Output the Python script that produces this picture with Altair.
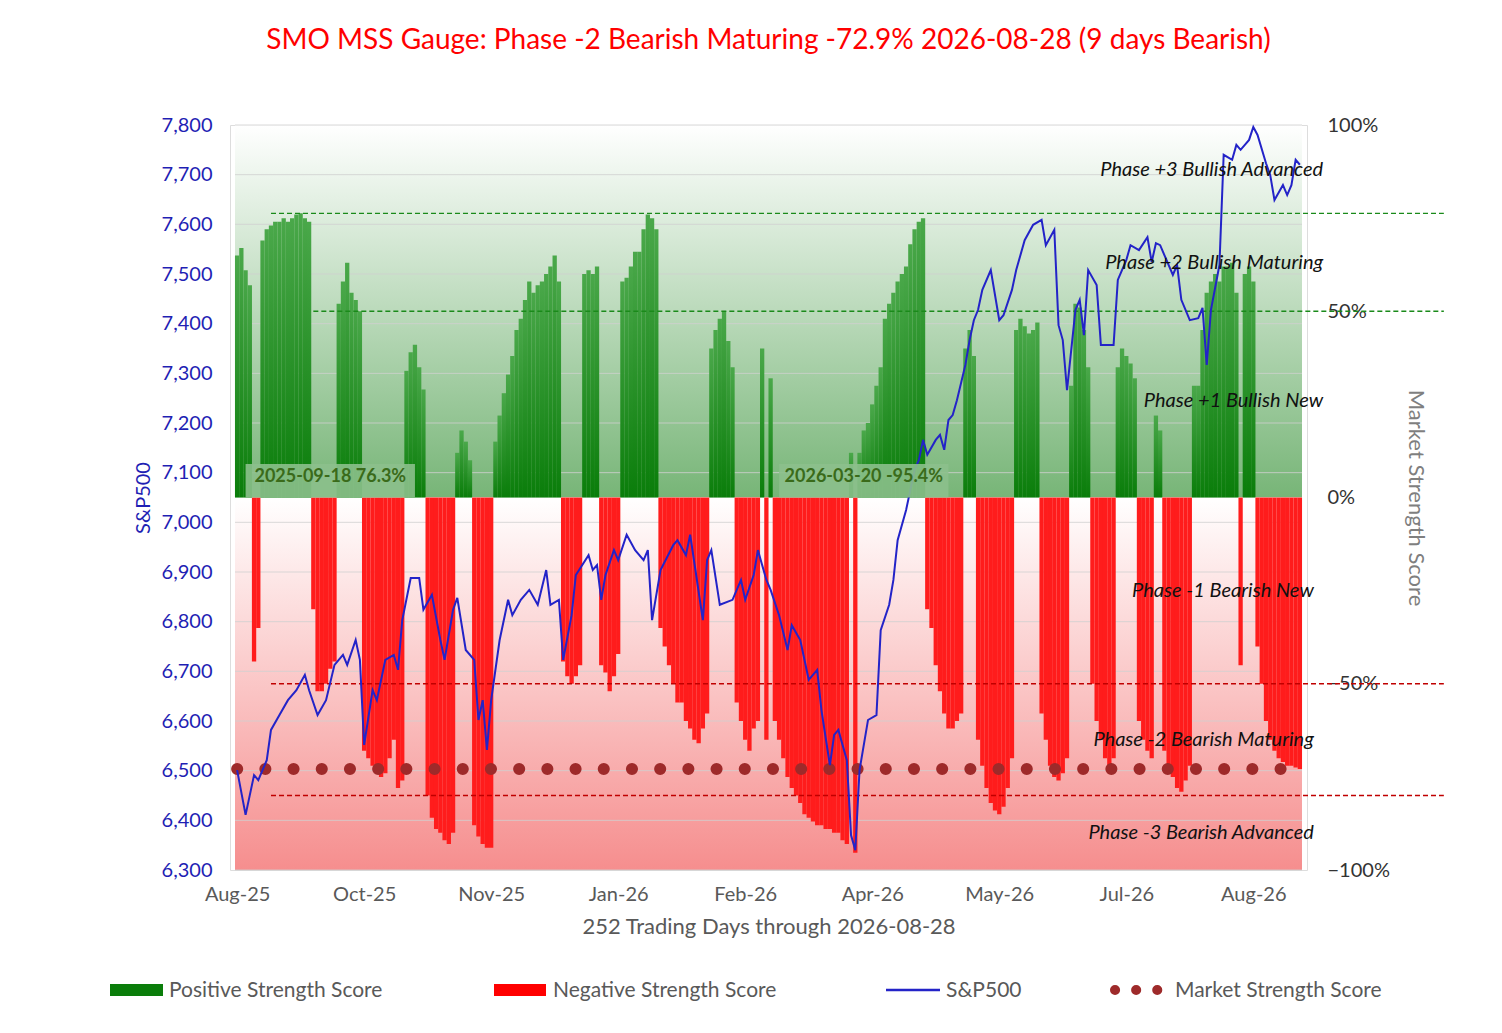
import altair as alt
import pandas as pd

# Market strength score per trading day (%), 252 days
strength = (
    [65, 67, 61, 57] + [-44, -35] +
    [69, 72, 73, 74, 74, 75, 74, 75, 76, 76.3, 75, 74] +
    [-30, -52, -52, -50, -46, -44] + [52, 58, 63, 55, 53, 50] +
    [-68, -70, -72, -73, -75, -74, -70, -65, -78, -76] +
    [34, 39, 41, 35, 29] + [-80, -86, -89, -90, -92, -93, -90] +
    [12, 18, 15, 10] + [-88, -91, -93, -94, -94] +
    [15, 22, 28, 33, 38, 45, 48, 53, 58, 55, 57, 58, 60, 62, 65, 58] +
    [-44, -48, -50, -48, -45] + [60, 61, 60, 62] + [-45, -47, -52, -48, -42] +
    [58, 59, 62, 66, 66, 72, 76, 75, 72] +
    [-35, -40, -45, -50, -55, -55, -60, -62, -65, -66, -62, -58] +
    [40, 45, 48, 50, 42, 35] + [-55, -60, -65, -68, -62, -60] + [40] + [-65] + [32] +
    [-60, -65, -70, -75, -78, -80, -82, -85, -86, -87, -88, -88, -89, -89, -90, -90, -92, -93] +
    [12, -95.4] +
    [12, 18, 20, 25, 30, 35, 48, 52, 55, 58, 60, 62, 68, 72, 74, 75] +
    [-30, -35, -45, -52, -58, -62, -62, -60, -58] + [40, 45, 38] +
    [-65, -72, -78, -82, -84, -85, -83, -78, -70] + [45, 48, 46, 44, 45, 47] +
    [-58, -65, -72, -75, -76, -74, -70] + [30, 52, 51, 45, 35] +
    [-50, -60, -65, -70, -72, -70] + [35, 40, 38, 36, 32] + [-60, -65, -68, -70] +
    [22, 18] + [-68, -72, -75, -78, -79, -76, -72] +
    [30, 30, 45, 55, 58, 60, 58, 62, 62, 63, 55] + [-45] + [60, 62, 58] +
    [-40, -50, -60, -65, -68, -70, -71, -72, -72, -72.5, -72.9]
)

sp_day = [0, 2, 4, 5, 7, 8, 10, 12, 14, 16, 17, 19, 21, 23, 25, 26, 28, 29, 30, 32, 33, 35, 37, 38, 39,
          41, 43, 44, 46, 48, 49, 51, 52, 54, 56, 57, 58, 59, 60, 62, 64, 65, 67, 69, 71, 73, 74, 76,
          77, 79, 80, 83, 84, 85, 86, 87, 89, 90, 92, 94, 96, 97, 98, 100, 103, 104, 106, 107, 110,
          111, 112, 114, 117, 119, 120, 122, 123, 125, 126, 128, 130, 131, 133, 135, 137, 138, 140,
          141, 142, 144, 145, 146, 147, 149, 151, 152, 154, 155, 156, 158, 159, 160, 161, 162, 163,
          165, 166, 167, 168, 169, 170, 172, 173, 174, 175, 176, 178, 180, 181, 183, 184, 186, 188,
          190, 191, 193, 194, 195, 196, 198, 199, 200, 201, 203, 204, 207, 208, 210, 211, 213, 215,
          216, 217, 218, 221, 222, 223, 225, 227, 228, 229, 230, 232, 233, 235, 236, 237, 239, 240,
          241, 243, 244, 245, 247, 248, 249, 250, 251]
sp_val = [6501, 6411, 6491, 6481, 6521, 6582, 6612, 6642, 6662, 6693, 6662, 6612, 6642, 6713, 6733,
          6713, 6763, 6723, 6552, 6662, 6642, 6723, 6733, 6703, 6803, 6888, 6888, 6824, 6854, 6763,
          6723, 6824, 6848, 6743, 6723, 6602, 6642, 6542, 6642, 6763, 6844, 6813, 6844, 6864, 6834,
          6904, 6834, 6844, 6723, 6813, 6894, 6934, 6904, 6914, 6844, 6894, 6944, 6924, 6975, 6944,
          6924, 6944, 6803, 6904, 6954, 6964, 6934, 6975, 6803, 6924, 6944, 6834, 6844, 6884, 6844,
          6894, 6944, 6884, 6864, 6813, 6743, 6793, 6763, 6683, 6703, 6622, 6511, 6572, 6582, 6521,
          6370, 6340, 6501, 6602, 6612, 6783, 6834, 6884, 6964, 7025, 7065, 7105, 7125, 7166, 7136,
          7166, 7176, 7146, 7206, 7216, 7246, 7317, 7367, 7407, 7428, 7468, 7508, 7407, 7417, 7468,
          7508, 7568, 7599, 7609, 7558, 7589, 7397, 7367, 7266, 7428, 7448, 7377, 7508, 7478, 7357,
          7357, 7488, 7528, 7558, 7548, 7574, 7524, 7562, 7558, 7498, 7518, 7448, 7407, 7411, 7432,
          7317, 7428, 7518, 7740, 7730, 7760, 7750, 7770, 7796, 7780, 7723, 7699, 7649, 7679, 7659,
          7679, 7730, 7720]

month_labels = ["Aug-25", "Oct-25", "Nov-25", "Jan-26", "Feb-26", "Apr-26", "May-26", "Jul-26", "Aug-26"]
sp_ticks = list(range(6300, 7801, 100))
phase_labels = ["Phase +3 Bullish Advanced", "Phase +2 Bullish Maturing", "Phase +1 Bullish New",
                "Phase -1 Bearish New", "Phase -2 Bearish Maturing", "Phase -3 Bearish Advanced"]
phase_y = [0.88, 0.63, 0.26, -0.25, -0.65, -0.90]
phase_x = [256.5, 256.5, 256.5, 254.3, 254.3, 254.3]
current_score = -0.729

n = len(strength)
bars = pd.DataFrame({"day": list(range(n)), "score": [v / 100 for v in strength]})
sp = pd.DataFrame({"day": sp_day[:len(sp_val)], "sp": sp_val[:len(sp_day)]})

X = alt.X("day:Q", scale=alt.Scale(domain=[-0.5, n - 0.5], nice=False, zero=False),
          axis=alt.Axis(values=[0, 30, 60, 90, 120, 150, 180, 210, 240],
                        labelExpr="%s[datum.value/30]" % str(month_labels),
                        title="252 Trading Days through 2026-08-28", ticks=False, domain=False, grid=False,
                        labelFontSize=20, labelColor="#595959", titleFontSize=22, titleColor="#595959",
                        titleFontWeight="normal", labelPadding=14, titlePadding=12))
SS = alt.Scale(domain=[-1, 1], nice=False, zero=False)
SPS = alt.Scale(domain=[6300, 7800], nice=False, zero=False)


def ys(field="score", axis=None):
    return alt.Y(field + ":Q", scale=SS, axis=axis)


green_grad = alt.Gradient(gradient="linear", x1=0, x2=0, y1=0, y2=1,
                          stops=[alt.GradientStop(color="#ffffff", offset=0),
                                 alt.GradientStop(color="#5fa85f", offset=1)])
red_grad = alt.Gradient(gradient="linear", x1=0, x2=0, y1=0, y2=1,
                        stops=[alt.GradientStop(color="#ffffff", offset=0),
                               alt.GradientStop(color="#f47a7a", offset=1)])
bg = pd.DataFrame({"x": [-0.5, -0.5], "x2": [n - 0.5, n - 0.5], "lo": [0, -1], "hi": [1, 0], "k": ["g", "r"]})
bg_g = alt.Chart(bg[bg.k == "g"]).mark_rect(color=green_grad, opacity=0.85).encode(
    x="x:Q", x2="x2:Q", y=ys("hi"), y2="lo:Q")
bg_r = alt.Chart(bg[bg.k == "r"]).mark_rect(color=red_grad, opacity=0.85).encode(
    x="x:Q", x2="x2:Q", y=ys("hi"), y2="lo:Q")

grid = alt.Chart(pd.DataFrame({"g": sp_ticks, "x": [-0.5] * len(sp_ticks), "x2": [n - 0.5] * len(sp_ticks)})
                 ).mark_rule(color="#d0d0d0", strokeWidth=1, opacity=0.8).encode(
    x="x:Q", x2="x2:Q", y=alt.Y("g:Q", scale=SPS, axis=None))

bar_g_grad = alt.Gradient(gradient="linear", x1=0, x2=0, y1=0, y2=1,
                          stops=[alt.GradientStop(color="#4aa84a", offset=0),
                                 alt.GradientStop(color="#0a7d0a", offset=1)])
right_axis = alt.Axis(orient="right", values=[-1, -0.5, 0, 0.5, 1], format=".0%", ticks=False, domain=False,
                      grid=False, labelFontSize=20, labelColor="#333333", labelPadding=20,
                      title="Market Strength Score", titleFontSize=22, titleColor="#7f7f7f",
                      titleFontWeight="normal", titlePadding=14)
bars_g = alt.Chart(bars[bars.score > 0]).mark_bar(size=4.3, color=bar_g_grad).encode(
    x=X, y=ys("score", right_axis), y2=alt.datum(0))
bars_r = alt.Chart(bars[bars.score < 0]).mark_bar(size=4.3, color="#ff1c1c").encode(
    x="day:Q", y=ys(), y2=alt.datum(0))

lines = pd.DataFrame({"x": [8, 18, 8, 8], "x2": [285, 285, 285, 285],
                      "y": [0.763, 0.5, -0.5, -0.8], "c": ["g", "g", "r", "r"]})
dash_g = alt.Chart(lines[lines.c == "g"]).mark_rule(color="#1a8a1a", strokeDash=[5, 3], clip=False,
                                                   strokeWidth=1.3).encode(
    x="x:Q", x2="x2:Q", y=ys("y"))
dash_r = alt.Chart(lines[lines.c == "r"]).mark_rule(color="#c00000", strokeDash=[5, 3], clip=False,
                                                   strokeWidth=1.3).encode(
    x="x:Q", x2="x2:Q", y=ys("y"))

dots = alt.Chart(pd.DataFrame({"x": [0], "x2": [n - 1], "y": [current_score]})).mark_rule(
    color="#9e2a2a", strokeWidth=12, strokeCap="round", strokeDash=[0.1, 28.1]).encode(
    x="x:Q", x2="x2:Q", y=ys("y"))

sp_line = alt.Chart(sp).mark_line(color="#2323c8", strokeWidth=2).encode(
    x="day:Q",
    y=alt.Y("sp:Q", scale=SPS,
            axis=alt.Axis(orient="left", values=sp_ticks, format=",.0f", ticks=False,
                          domain=False, grid=False, labelFontSize=20,
                          labelColor="#1f1fb4", labelPadding=18, title="S&P500", titleFontSize=20,
                          titleColor="#1f1fb4", titleFontWeight="normal", titlePadding=8)))

ph = pd.DataFrame({"t": phase_labels, "x": phase_x, "y": phase_y})
phases = alt.Chart(ph).mark_text(align="right", fontSize=20, fontStyle="italic", color="#111111",
                                 clip=False).encode(x="x:Q", y=ys("y"), text="t:N")

ann = pd.DataFrame({"x": [2, 128], "x2": [42, 168], "y": [0.09, 0.09], "y2": [0.0, 0.0],
                    "t": ["2025-09-18  76.3%", "2026-03-20  -95.4%"], "tx": [22, 148], "ty": [0.055, 0.055]})
ann_box = alt.Chart(ann).mark_rect(color="#8cc08c", opacity=0.9).encode(
    x="x:Q", x2="x2:Q", y=ys("y"), y2="y2:Q")
ann_txt = alt.Chart(ann).mark_text(fontSize=18, fontWeight="bold", color="#3a6b1a").encode(
    x="tx:Q", y=ys("ty"), text="t:N")

# custom legend
leg = pd.DataFrame({"a": [0]})
base = alt.Chart(leg)
lg = [
    base.mark_rect(color="#0a7d0a").encode(x=alt.value(-120), x2=alt.value(-67), y=alt.value(859), y2=alt.value(871)),
    base.mark_text(align="left", fontSize=21, color="#595959", text="Positive Strength Score").encode(
        x=alt.value(-61), y=alt.value(866)),
    base.mark_rect(color="#ff0000").encode(x=alt.value(264), x2=alt.value(316), y=alt.value(859), y2=alt.value(871)),
    base.mark_text(align="left", fontSize=21, color="#595959", text="Negative Strength Score").encode(
        x=alt.value(323), y=alt.value(866)),
    base.mark_rule(color="#2323c8", strokeWidth=2.5).encode(x=alt.value(656), x2=alt.value(710), y=alt.value(865)),
    base.mark_text(align="left", fontSize=21, color="#595959", text="S&P500").encode(
        x=alt.value(716), y=alt.value(866)),
    base.mark_rule(color="#9e2a2a", strokeWidth=10, strokeCap="round", strokeDash=[0.1, 21]).encode(
        x=alt.value(885), x2=alt.value(930), y=alt.value(865)),
    base.mark_text(align="left", fontSize=21, color="#595959", text="Market Strength Score").encode(
        x=alt.value(945), y=alt.value(866)),
]

chart = alt.layer(bg_g, bg_r, grid, bars_g, bars_r, dash_g, dash_r, dots, sp_line, phases, ann_box, ann_txt,
                  *lg).resolve_scale(y="independent").properties(
    width=1077, height=745,
    autosize=alt.AutoSizeParams(type="none"),
    padding={"left": 222, "top": 117, "right": 180, "bottom": 150},
    title=alt.TitleParams("SMO MSS Gauge: Phase -2 Bearish Maturing -72.9% 2026-08-28 (9 days Bearish)",
                          color="#ff0000", fontSize=28, fontWeight="normal", offset=60, anchor="middle"),
).configure_view(stroke=None).configure(font="Lato")

chart.save("out.html", embed_options={"renderer": "svg", "actions": False})
